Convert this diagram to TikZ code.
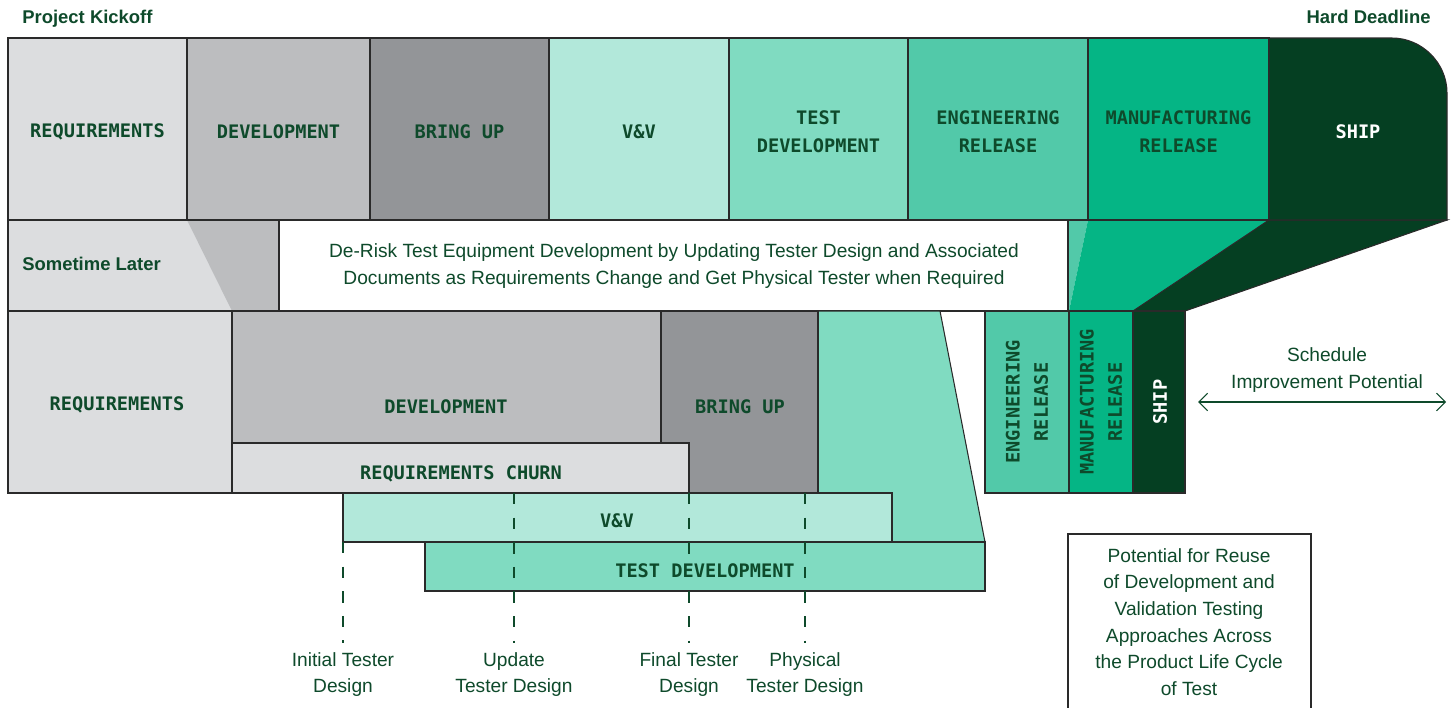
\documentclass[tikz,border=0pt]{standalone}
\usepackage{fontspec}
\setmainfont{Liberation Sans}
\newfontfamily\phasefont{DejaVu Sans Mono}
\usetikzlibrary{arrows.meta}
\definecolor{reqgray}{HTML}{DCDDDF}
\definecolor{devgray}{HTML}{BCBDBF}
\definecolor{bringgray}{HTML}{939598}
\definecolor{vvteal}{HTML}{B2E8DA}
\definecolor{testteal}{HTML}{80DBC1}
\definecolor{engteal}{HTML}{52C9A9}
\definecolor{mfggreen}{HTML}{05B585}
\definecolor{shipgreen}{HTML}{053F22}
\definecolor{deepgreen}{HTML}{0E4A2B}
\definecolor{boxline}{HTML}{2A2A2A}
\tikzset{
  box/.style={draw=boxline, line width=0.6pt},
  phase/.style={font=\phasefont\bfseries\fontsize{10.6}{16}\selectfont, text=deepgreen, align=center, inner sep=0pt},
  note/.style={font=\fontsize{10.9}{15.2}\selectfont, text=deepgreen, align=center, inner sep=0pt},
  head/.style={font=\bfseries\fontsize{10.5}{12}\selectfont, text=deepgreen, inner sep=0pt},
  milestone/.style={draw=deepgreen, line width=0.6pt, dash pattern=on 6.5pt off 7.5pt},
  span/.style={draw=deepgreen, line width=0.6pt, arrows={Straight Barb[length=5pt,width=10pt]-Straight Barb[length=5pt,width=10pt]}}
}
\begin{document}
\begin{tikzpicture}[x=0.02cm, y=-0.02cm]
\useasboundingbox (0,0) rectangle (1456,707);
\node[head, anchor=base west] (kickoff) at (22,23) {Project Kickoff};
\node[head, anchor=base east] (deadline) at (1431,23) {Hard Deadline};

% band between the two schedules
\fill[reqgray] (8,220) rectangle (279,311);
\fill[devgray] (187,220) -- (279,220) -- (279,311) -- (232,311) -- cycle;
\draw[box] (8,220) rectangle (279,311);
\node[head, anchor=base west] (later) at (22,270) {Sometime Later};
\fill[engteal] (908,220) -- (1088,220) -- (1069,311) -- (985,311) -- cycle;
\fill[mfggreen] (1088,220) -- (1269,220) -- (1133,311) -- (1069,311) -- cycle;
\filldraw[fill=shipgreen, box] (1269,220) -- (1447,220) -- (1185,311) -- (1133,311) -- cycle;
\draw[box, fill=white] (279,220) rectangle (1068,311);
\node[note] (derisk) at (674,266) {De-Risk Test Equipment Development by Updating Tester Design and Associated\\Documents as Requirements Change and Get Physical Tester when Required};

% first schedule
\foreach \xa/\xb/\col/\name/\txt in {8/187/reqgray/req/REQUIREMENTS, 187/370/devgray/dev/DEVELOPMENT, 370/549/bringgray/bring/BRING UP, 549/729/vvteal/vv/V\&V, 729/908/testteal/test/{TEST\\DEVELOPMENT}, 908/1088/engteal/eng/{ENGINEERING\\RELEASE}, 1088/1269/mfggreen/mfg/{MANUFACTURING\\RELEASE}}
{
  \draw[box, fill=\col] (\xa,38) rectangle (\xb,220);
  \node[phase] (top-\name) at ({(\xa+\xb)/2},132) {\txt};
}
\draw[box, fill=shipgreen] (1269,38) -- (1392,38) .. controls (1422,38) and (1447,63) .. (1447,93) -- (1447,220) -- (1269,220) -- cycle;
\node[phase, text=white] (top-ship) at (1358,132) {SHIP};

% second schedule
\draw[box, fill=testteal] (818,311) -- (940,311) -- (985,542) -- (818,542) -- cycle;
\draw[box, fill=reqgray] (8,311) rectangle (232,493);
\node[phase] (low-req) at (117,405) {REQUIREMENTS};
\draw[box, fill=devgray] (232,311) rectangle (661,443);
\node[phase] (low-dev) at (446,407) {DEVELOPMENT};
\draw[box, fill=bringgray] (661,311) rectangle (818,493);
\node[phase] (low-bring) at (740,407) {BRING UP};
\draw[box, fill=reqgray] (232,443) rectangle (689,493);
\node[phase] (low-churn) at (461,474) {REQUIREMENTS CHURN};
\draw[box, fill=vvteal] (343,493) rectangle (892,542);
\node[phase] (low-vv) at (617,521) {V\&V};
\draw[box, fill=testteal] (425,542) rectangle (985,591);

\draw[box, fill=engteal] (985,311) rectangle (1069,493);
\node[phase, rotate=90] (low-eng) at (1027,402) {ENGINEERING\\RELEASE};
\draw[box, fill=mfggreen] (1069,311) rectangle (1133,493);
\node[phase, rotate=90] (low-mfg) at (1101,402) {MANUFACTURING\\RELEASE};
\draw[box, fill=shipgreen] (1133,311) rectangle (1185,493);
\node[phase, rotate=90, text=white] (low-ship) at (1160,402) {SHIP};

% tester design milestones
\node[note, anchor=north] (init) at (343,652) {Initial Tester\\Design};
\node[note, anchor=north] (update) at (514,652) {Update\\Tester Design};
\node[note, anchor=north] (final) at (689,652) {Final Tester\\Design};
\node[note, anchor=north] (phys) at (805,652) {Physical\\Tester Design};
\coordinate (init-top) at (343,542);
\coordinate (update-top) at (514,493);
\coordinate (final-top) at (689,493);
\coordinate (phys-top) at (805,493);
\foreach \name in {init,update,final,phys}
  \draw[milestone, shorten >=5pt] (\name-top) -- (\name.north);
\node[phase, fill=testteal, inner sep=1.5pt] (low-test) at (705,571) {TEST DEVELOPMENT};

% schedule gain
\node[note] (gain) at (1327,370) {Schedule\\Improvement Potential};
\coordinate (gainL) at (1198,402);
\coordinate (gainR) at (1446,402);
\draw[span] (gainL) -- (gainR);

\draw[box] (1068,712) -- (1068,534) -- (1311,534) -- (1311,712);
\node[note] (reuse) at (1189,622) {Potential for Reuse\\of Development and\\Validation Testing\\Approaches Across\\the Product Life Cycle\\of Test};
\end{tikzpicture}
\end{document}
